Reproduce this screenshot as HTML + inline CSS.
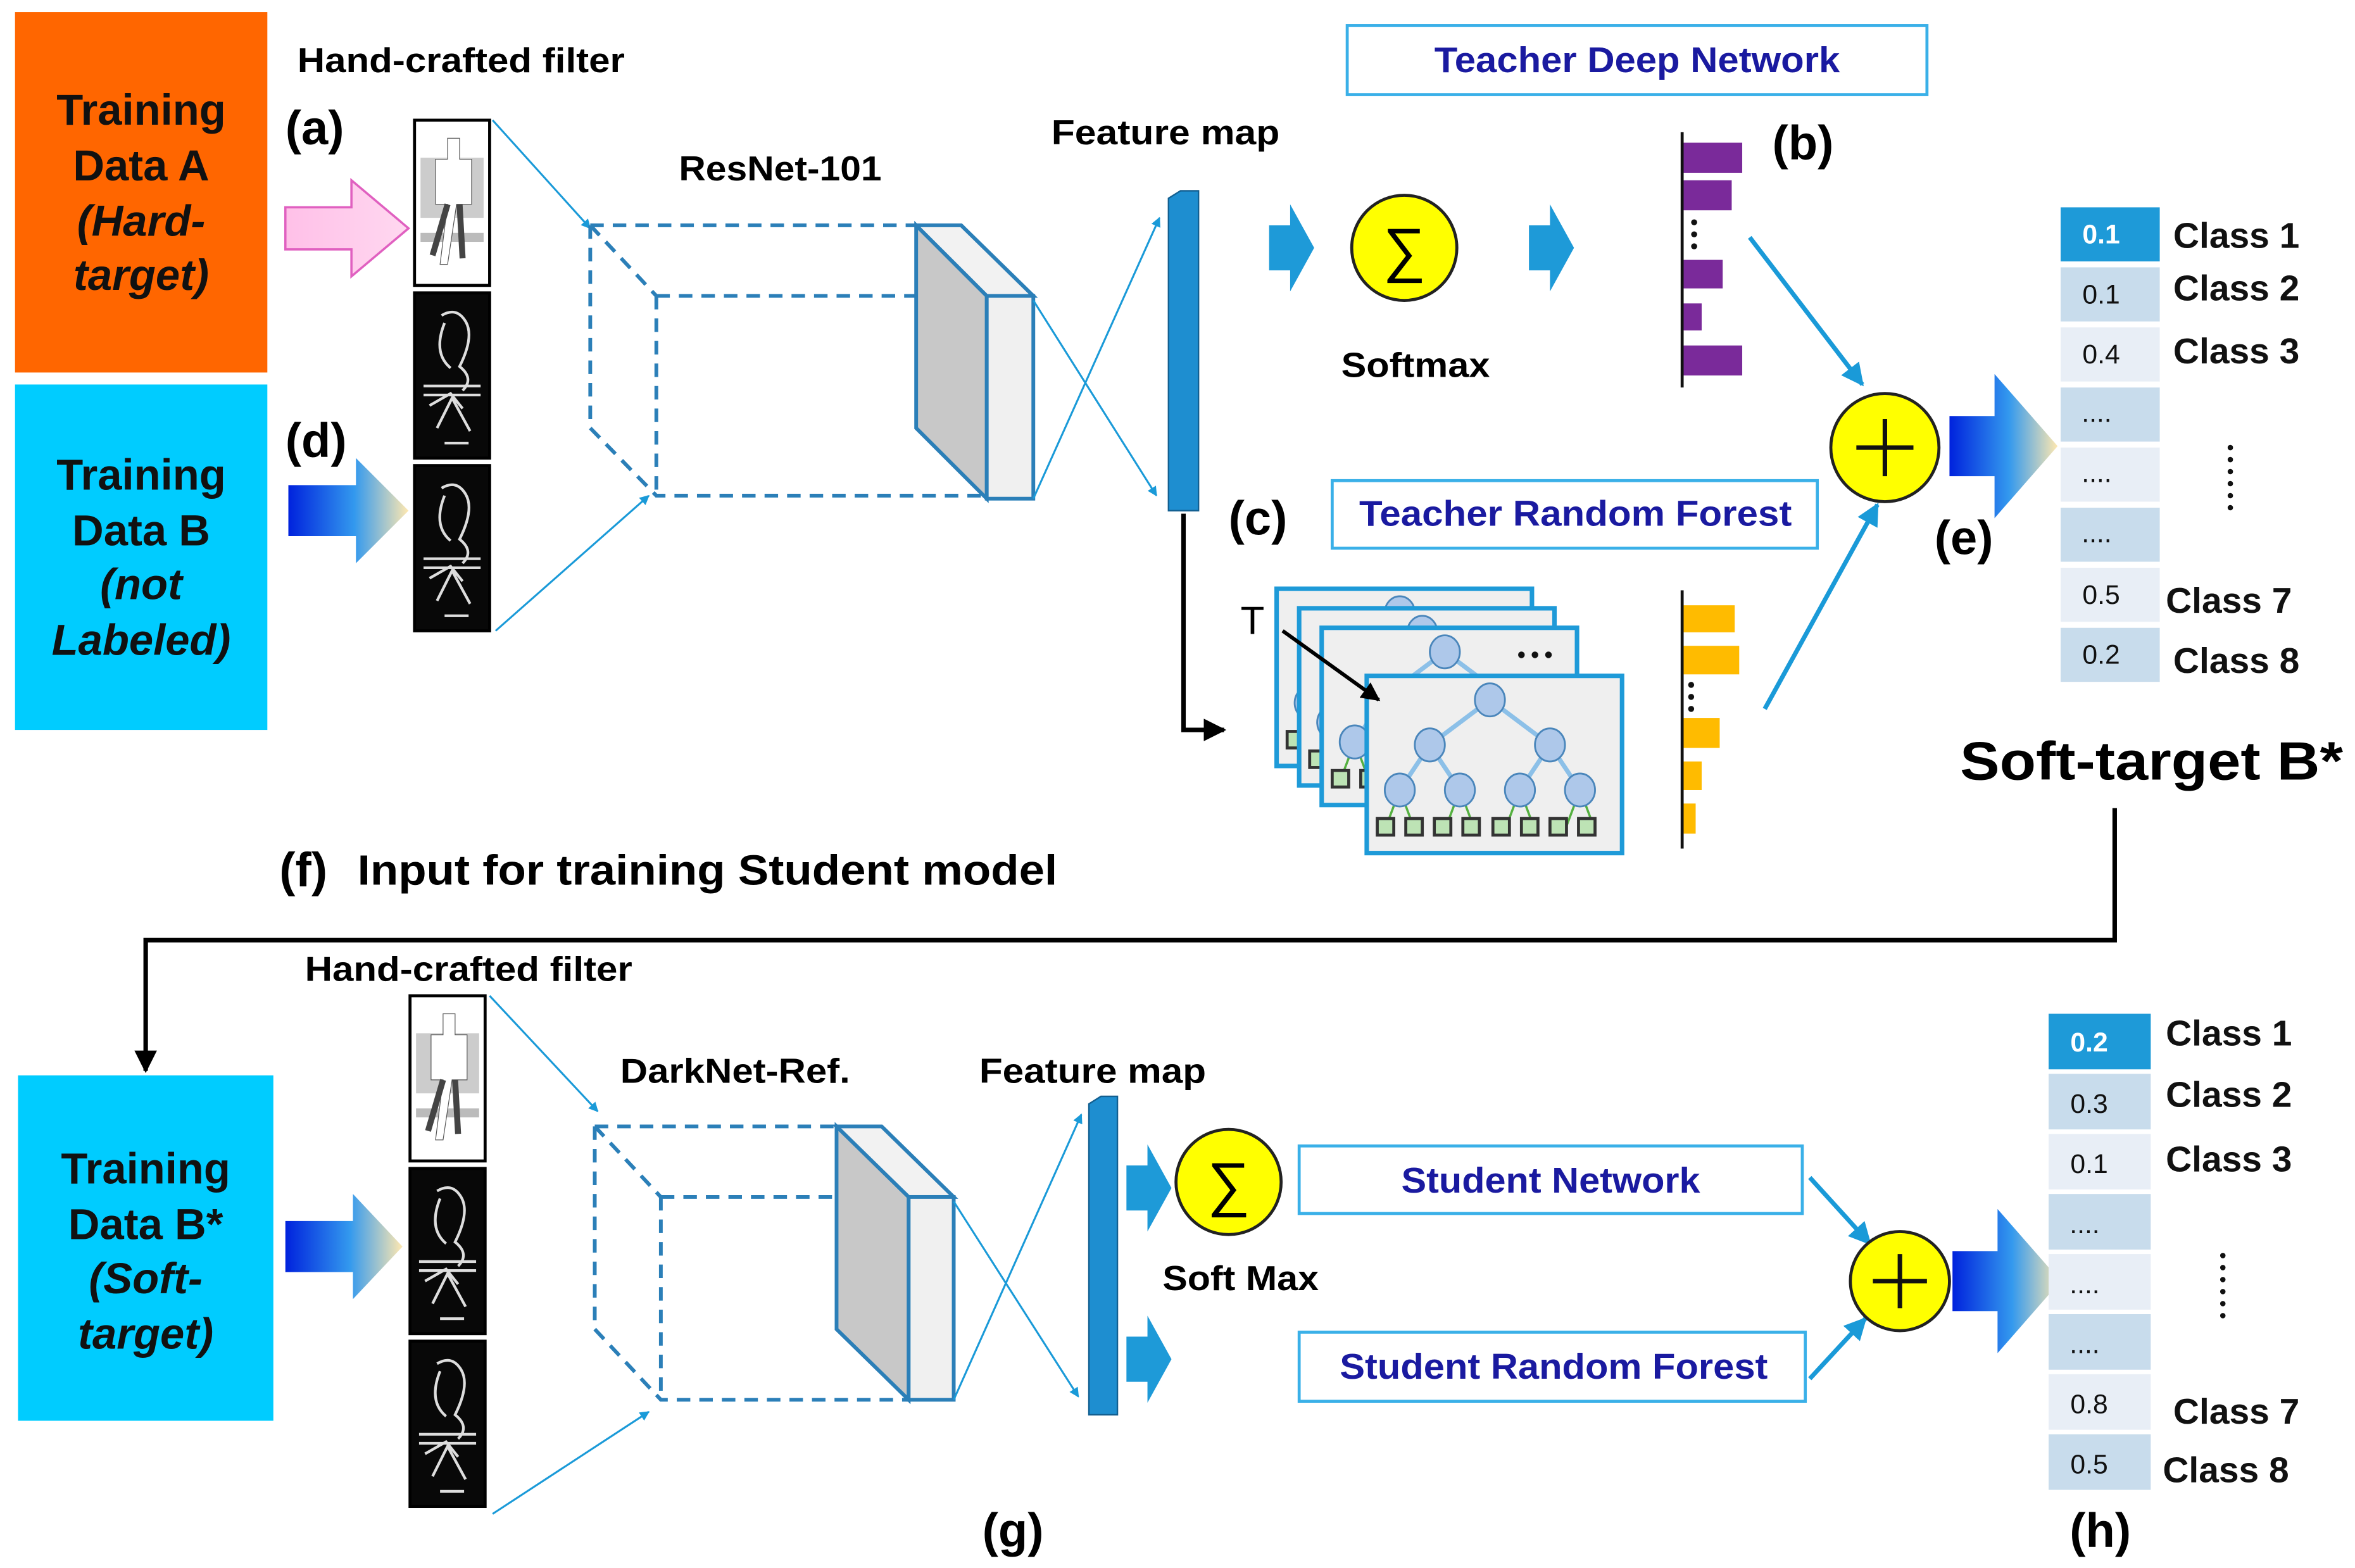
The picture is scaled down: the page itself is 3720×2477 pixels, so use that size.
<!DOCTYPE html>
<html><head><meta charset="utf-8"><style>
html,body{margin:0;padding:0;background:#fff}
svg{display:block}
text{font-family:"Liberation Sans",sans-serif}
</style></head><body>
<svg width="3720" height="2477" viewBox="0 0 1568 1044" xmlns="http://www.w3.org/2000/svg">
<defs>
<linearGradient id="bg" x1="0" x2="1" y1="0" y2="0"><stop offset="0" stop-color="#0022dd"/><stop offset="0.55" stop-color="#3399ee"/><stop offset="1" stop-color="#ffe8b0"/></linearGradient>
<linearGradient id="pk" x1="0" x2="1"><stop offset="0" stop-color="#ffc0e8"/><stop offset="1" stop-color="#ffd8f0"/></linearGradient>
<marker id="ab" viewBox="0 0 10 10" refX="9" refY="5" markerWidth="5" markerHeight="5" orient="auto"><path d="M0,0L10,5L0,10z" fill="#1a9ad8"/></marker>
<marker id="ak" viewBox="0 0 10 10" refX="9" refY="5" markerWidth="5" markerHeight="5" orient="auto"><path d="M0,0L10,5L0,10z" fill="#000"/></marker>
<g id="imw"><rect width="50" height="110" fill="#fff" stroke="#000" stroke-width="2"/><rect x="4" y="25" width="42" height="40" fill="#ccc"/><rect x="4" y="75" width="42" height="6" fill="#bbb"/><path d="M22 12h8v14h8v30h-10l-6 40h-5l5-40h-8v-30h8z" fill="#fff" stroke="#555" stroke-width="0.5"/><path d="M22 56l-10 34M30 56l2 36" stroke="#444" stroke-width="4"/></g>
<g id="imd"><rect width="50" height="110" fill="#080808" stroke="#000" stroke-width="2"/><path d="M18 15q10-6 16 4t-4 30q10 8 2 16M20 20q-8 20 4 30M6 62h38M6 68h38M10 75l14-8 8 10M15 90l10-20 12 22M20 100h16" stroke="#ddd" stroke-width="1.8" fill="none"/></g>
<g id="tree">
<rect width="170" height="118" fill="#efefef" stroke="#1e9ad8" stroke-width="3"/>
<g stroke="#8cc0e8" stroke-width="3" fill="none"><path d="M82 16L42 46M82 16L122 46M42 46L22 76M42 46L62 76M122 46L102 76M122 46L142 76"/></g>
<g stroke="#55b040" stroke-width="1.5"><path d="M22 76l-9 24M22 76l9 24M62 76l-9 24M62 76l9 24M102 76l-9 24M102 76l9 24M142 76l-9 24M142 76l9 24"/></g>
<g fill="#aec8ea" stroke="#4a86bb" stroke-width="1.2"><ellipse cx="82" cy="16" rx="10" ry="11"/><ellipse cx="42" cy="46" rx="10" ry="11"/><ellipse cx="122" cy="46" rx="10" ry="11"/><ellipse cx="22" cy="76" rx="10" ry="11"/><ellipse cx="62" cy="76" rx="10" ry="11"/><ellipse cx="102" cy="76" rx="10" ry="11"/><ellipse cx="142" cy="76" rx="10" ry="11"/></g>
<g fill="#bde3b5" stroke="#333" stroke-width="2"><rect x="7" y="95" width="11" height="11"/><rect x="26" y="95" width="11" height="11"/><rect x="45" y="95" width="11" height="11"/><rect x="64" y="95" width="11" height="11"/><rect x="84" y="95" width="11" height="11"/><rect x="103" y="95" width="11" height="11"/><rect x="122" y="95" width="11" height="11"/><rect x="141" y="95" width="11" height="11"/></g>
</g>
</defs>

<rect x="10" y="8" width="168" height="240" fill="#ff6600"/>
<g font-size="29" font-weight="bold" text-anchor="middle" fill="#111">
<text x="94" y="83">Training</text><text x="94" y="120">Data A</text>
<text x="94" y="157" font-style="italic">(Hard-</text><text x="94" y="193" font-style="italic">target)</text>
</g>
<rect x="10" y="256" width="168" height="230" fill="#00ccff"/>
<g font-size="29" font-weight="bold" text-anchor="middle" fill="#111">
<text x="94" y="326">Training</text><text x="94" y="363">Data B</text>
<text x="94" y="399" font-style="italic">(not</text><text x="94" y="436" font-style="italic">Labeled)</text>
</g>
<text x="198" y="48" font-size="23" font-weight="bold" textLength="218" lengthAdjust="spacingAndGlyphs">Hand-crafted filter</text>
<text x="190" y="96" font-size="32" font-weight="bold">(a)</text>
<text x="190" y="304" font-size="32" font-weight="bold">(d)</text>
<path d="M190 138h44v-18l38 32-38 32v-18h-44z" fill="url(#pk)" stroke="#e060c0" stroke-width="1.5"/>
<path d="M192 323h45v-18l35 35-35 35v-18h-45z" fill="url(#bg)"/>
<use href="#imw" x="276" y="80"/><use href="#imd" x="276" y="195"/><use href="#imd" x="276" y="310"/>

<text x="452" y="120" font-size="23" font-weight="bold" textLength="135" lengthAdjust="spacingAndGlyphs">ResNet-101</text>
<g stroke="#1a9ad8" stroke-width="1.3" fill="none"><path d="M328 80L393 152" marker-end="url(#ab)"/><path d="M330 420L432 330" marker-end="url(#ab)"/></g>
<g stroke="#2b7fb8" stroke-width="2.5" stroke-dasharray="9,6" fill="none">
<path d="M393 150H610M437 197H657M393 150L437 197M393 150V285L437 330H657M437 197V330"/></g>
<path d="M610 150L657 197V332L610 285z" fill="#c8c8c8" stroke="#2b7fb8" stroke-width="2.5"/>
<path d="M610 150H640L688 197H657z" fill="#f2f2f2" stroke="#2b7fb8" stroke-width="2.5"/>
<rect x="657" y="197" width="31" height="135" fill="#f0f0f0" stroke="#2b7fb8" stroke-width="2.5"/>
<g stroke="#1a9ad8" stroke-width="1.3"><path d="M688 200L770 330" marker-end="url(#ab)"/><path d="M688 332L772 145" marker-end="url(#ab)"/></g>
<text x="700" y="96" font-size="23" font-weight="bold" textLength="152" lengthAdjust="spacingAndGlyphs">Feature map</text>
<path d="M778 132L786 127H798V340H778z" fill="#1e8ed0" stroke="#135f90" stroke-width="1"/>
<path d="M845 150h14v-14l16 29-16 29v-14h-14z" fill="#1e9ad8"/>
<circle cx="935" cy="165" r="35" fill="#ffff00" stroke="#222" stroke-width="2"/>
<text x="935" y="180" font-size="40" text-anchor="middle">∑</text>
<text x="893" y="251" font-size="23" font-weight="bold" textLength="99" lengthAdjust="spacingAndGlyphs">Softmax</text>
<path d="M1018 150h14v-14l16 29-16 29v-14h-14z" fill="#1e9ad8"/>
<rect x="897" y="17" width="386" height="46" fill="#fff" stroke="#3ab0e8" stroke-width="2"/>
<text x="955" y="48" font-size="24" font-weight="bold" fill="#1a1aa0" textLength="270" lengthAdjust="spacingAndGlyphs">Teacher Deep Network</text>
<path d="M1120 88V258" stroke="#111" stroke-width="2"/>
<g fill="#7a2a9a"><rect x="1121" y="95" width="39" height="20"/><rect x="1121" y="120" width="32" height="20"/><rect x="1121" y="173" width="26" height="19"/><rect x="1121" y="202" width="12" height="18"/><rect x="1121" y="230" width="39" height="20"/></g>
<g fill="#111"><circle cx="1128" cy="148" r="2"/><circle cx="1128" cy="156" r="2"/><circle cx="1128" cy="164" r="2"/></g>
<text x="1180" y="106" font-size="32" font-weight="bold">(b)</text>
<path d="M1165 158L1240 256" stroke="#1a9ad8" stroke-width="3" marker-end="url(#ab)"/>
<path d="M1175 472L1250 336" stroke="#1a9ad8" stroke-width="3" marker-end="url(#ab)"/>
<circle cx="1255" cy="298" r="36" fill="#ffff00" stroke="#222" stroke-width="2"/>
<path d="M1236 298H1274M1255 279V317" stroke="#111" stroke-width="3"/>
<text x="1288" y="369" font-size="32" font-weight="bold">(e)</text>
<path d="M1298 277h30v-28l42 48-42 48v-28h-30z" fill="url(#bg)"/>

<text x="818" y="356" font-size="32" font-weight="bold">(c)</text>
<rect x="887" y="320" width="323" height="45" fill="#fff" stroke="#3ab0e8" stroke-width="2"/>
<text x="905" y="350" font-size="24" font-weight="bold" fill="#1a1aa0" textLength="288" lengthAdjust="spacingAndGlyphs">Teacher Random Forest</text>
<path d="M788 342V486H815" stroke="#000" stroke-width="3" fill="none" marker-end="url(#ak)"/>
<use href="#tree" x="850" y="392"/><use href="#tree" x="865" y="405"/><use href="#tree" x="880" y="418"/><use href="#tree" x="910" y="450"/>
<g fill="#111"><circle cx="1013" cy="436" r="2.2"/><circle cx="1022" cy="436" r="2.2"/><circle cx="1031" cy="436" r="2.2"/></g>
<text x="826" y="422" font-size="26" font-family="Liberation Serif">T</text>
<path d="M854 420L918 466" stroke="#000" stroke-width="2.5" marker-end="url(#ak)"/>
<path d="M1120 393V565" stroke="#111" stroke-width="2"/>
<g fill="#ffbb00"><rect x="1121" y="403" width="34" height="18"/><rect x="1121" y="430" width="37" height="19"/><rect x="1121" y="478" width="24" height="20"/><rect x="1121" y="507" width="12" height="19"/><rect x="1121" y="535" width="8" height="20"/></g>
<g fill="#111"><circle cx="1126" cy="456" r="2"/><circle cx="1126" cy="464" r="2"/><circle cx="1126" cy="472" r="2"/></g>

<g font-size="18" text-anchor="middle" fill="#111">
<rect x="1372" y="138" width="66" height="36" fill="#1e9ad8"/><text x="1399" y="162" fill="#fff" font-weight="bold">0.1</text>
<rect x="1372" y="178" width="66" height="36" fill="#c8dcec"/><text x="1399" y="202">0.1</text>
<rect x="1372" y="218" width="66" height="36" fill="#e8eef6"/><text x="1399" y="242">0.4</text>
<rect x="1372" y="258" width="66" height="36" fill="#c8dcec"/><text x="1396" y="281">....</text>
<rect x="1372" y="298" width="66" height="36" fill="#e8eef6"/><text x="1396" y="321">....</text>
<rect x="1372" y="338" width="66" height="36" fill="#c8dcec"/><text x="1396" y="361">....</text>
<rect x="1372" y="378" width="66" height="36" fill="#e8eef6"/><text x="1399" y="402">0.5</text>
<rect x="1372" y="418" width="66" height="36" fill="#c8dcec"/><text x="1399" y="442">0.2</text>
</g>
<g font-size="24" font-weight="bold" fill="#111">
<text x="1447" y="165">Class 1</text><text x="1447" y="200">Class 2</text><text x="1447" y="242">Class 3</text><text x="1442" y="408">Class 7</text><text x="1447" y="448">Class 8</text></g>
<g fill="#111"><circle cx="1485" cy="298" r="1.8"/><circle cx="1485" cy="306" r="1.8"/><circle cx="1485" cy="314" r="1.8"/><circle cx="1485" cy="322" r="1.8"/><circle cx="1485" cy="330" r="1.8"/><circle cx="1485" cy="338" r="1.8"/></g>
<text x="1305" y="519" font-size="36" font-weight="bold" textLength="255" lengthAdjust="spacingAndGlyphs">Soft-target  B*</text>
<path d="M1408 538V626H97V713" stroke="#000" stroke-width="3" fill="none" marker-end="url(#ak)"/>
<text x="186" y="590" font-size="32" font-weight="bold">(f)</text>
<text x="238" y="589" font-size="28" font-weight="bold" textLength="466" lengthAdjust="spacingAndGlyphs">Input for training Student model</text>

<text x="203" y="653" font-size="23" font-weight="bold" textLength="218" lengthAdjust="spacingAndGlyphs">Hand-crafted filter</text>
<rect x="12" y="716" width="170" height="230" fill="#00ccff"/>
<g font-size="29" font-weight="bold" text-anchor="middle" fill="#111">
<text x="97" y="788">Training</text><text x="97" y="825">Data B*</text>
<text x="97" y="861" font-style="italic">(Soft-</text><text x="97" y="898" font-style="italic">target)</text></g>
<path d="M190 813h45v-18l33 35-33 35v-18h-45z" fill="url(#bg)"/>
<use href="#imw" x="273" y="663"/><use href="#imd" x="273" y="778"/><use href="#imd" x="273" y="893"/>
<g stroke="#1a9ad8" stroke-width="1.3" fill="none"><path d="M326 663L398 740" marker-end="url(#ab)"/><path d="M328 1008L432 940" marker-end="url(#ab)"/></g>
<text x="413" y="721" font-size="23" font-weight="bold" textLength="153" lengthAdjust="spacingAndGlyphs">DarkNet-Ref.</text>
<g stroke="#2b7fb8" stroke-width="2.5" stroke-dasharray="9,6" fill="none">
<path d="M396 750H557M440 797H605M396 750L440 797M396 750V885L440 932H605M440 797V932"/></g>
<path d="M557 750L605 797V932L557 885z" fill="#c8c8c8" stroke="#2b7fb8" stroke-width="2.5"/>
<path d="M557 750H587L635 797H605z" fill="#f2f2f2" stroke="#2b7fb8" stroke-width="2.5"/>
<rect x="605" y="797" width="30" height="135" fill="#f0f0f0" stroke="#2b7fb8" stroke-width="2.5"/>
<g stroke="#1a9ad8" stroke-width="1.3"><path d="M635 800L718 930" marker-end="url(#ab)"/><path d="M635 932L720 742" marker-end="url(#ab)"/></g>
<text x="652" y="721" font-size="23" font-weight="bold" textLength="151" lengthAdjust="spacingAndGlyphs">Feature map</text>
<path d="M725 735L733 730H744V942H725z" fill="#1e8ed0" stroke="#135f90" stroke-width="1"/>
<path d="M750 776h14v-14l16 29-16 29v-14h-14z" fill="#1e9ad8"/>
<path d="M750 890h14v-14l16 29-16 29v-14h-14z" fill="#1e9ad8"/>
<circle cx="818" cy="787" r="35" fill="#ffff00" stroke="#222" stroke-width="2"/>
<text x="818" y="802" font-size="40" text-anchor="middle">∑</text>
<text x="774" y="859" font-size="23" font-weight="bold" textLength="104" lengthAdjust="spacingAndGlyphs">Soft Max</text>
<rect x="865" y="763" width="335" height="45" fill="#fff" stroke="#3ab0e8" stroke-width="2"/>
<text x="933" y="794" font-size="24" font-weight="bold" fill="#1a1aa0" textLength="199" lengthAdjust="spacingAndGlyphs">Student Network</text>
<rect x="865" y="887" width="337" height="46" fill="#fff" stroke="#3ab0e8" stroke-width="2"/>
<text x="892" y="918" font-size="24" font-weight="bold" fill="#1a1aa0" textLength="285" lengthAdjust="spacingAndGlyphs">Student Random Forest</text>
<path d="M1205 784L1245 828" stroke="#1a9ad8" stroke-width="3" marker-end="url(#ab)"/>
<path d="M1205 918L1242 878" stroke="#1a9ad8" stroke-width="3" marker-end="url(#ab)"/>
<circle cx="1265" cy="853" r="33" fill="#ffff00" stroke="#222" stroke-width="2"/>
<path d="M1247 853H1283M1265 835V871" stroke="#111" stroke-width="3"/>
<path d="M1300 833h30v-28l42 48-42 48v-28h-30z" fill="url(#bg)"/>
<g font-size="18" text-anchor="middle" fill="#111">
<rect x="1364" y="675" width="68" height="37" fill="#1e9ad8"/><text x="1391" y="700" fill="#fff" font-weight="bold">0.2</text>
<rect x="1364" y="715" width="68" height="37" fill="#c8dcec"/><text x="1391" y="741">0.3</text>
<rect x="1364" y="755" width="68" height="37" fill="#e8eef6"/><text x="1391" y="781">0.1</text>
<rect x="1364" y="795" width="68" height="37" fill="#c8dcec"/><text x="1388" y="821">....</text>
<rect x="1364" y="835" width="68" height="37" fill="#e8eef6"/><text x="1388" y="861">....</text>
<rect x="1364" y="875" width="68" height="37" fill="#c8dcec"/><text x="1388" y="901">....</text>
<rect x="1364" y="915" width="68" height="37" fill="#e8eef6"/><text x="1391" y="941">0.8</text>
<rect x="1364" y="955" width="68" height="37" fill="#c8dcec"/><text x="1391" y="981">0.5</text>
</g>
<g font-size="24" font-weight="bold" fill="#111">
<text x="1442" y="696">Class 1</text><text x="1442" y="737">Class 2</text><text x="1442" y="780">Class 3</text><text x="1447" y="948">Class 7</text><text x="1440" y="987">Class 8</text></g>
<g fill="#111"><circle cx="1480" cy="836" r="1.8"/><circle cx="1480" cy="844" r="1.8"/><circle cx="1480" cy="852" r="1.8"/><circle cx="1480" cy="860" r="1.8"/><circle cx="1480" cy="868" r="1.8"/><circle cx="1480" cy="876" r="1.8"/></g>
<text x="654" y="1030" font-size="32" font-weight="bold">(g)</text>
<text x="1378" y="1030" font-size="32" font-weight="bold">(h)</text>
</svg>
</body></html>
